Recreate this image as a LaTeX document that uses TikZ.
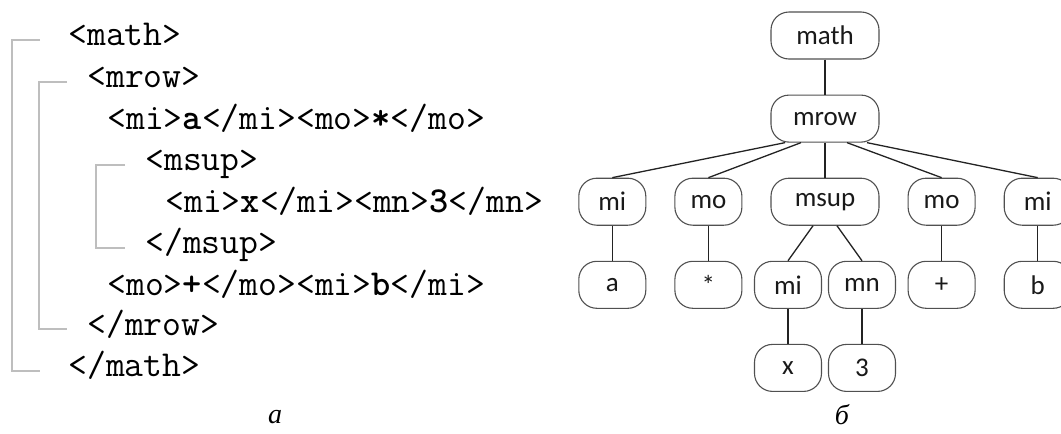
\documentclass[tikz,border=0pt]{standalone}
\usepackage{fontspec}
\setmainfont{Liberation Serif}
\newfontfamily\capfont{Liberation Serif Italic}
\newfontfamily\treefont{Carlito}
\usepackage{xcolor}
\definecolor{bracketgray}{RGB}{190, 190, 190}
\definecolor{boxline}{RGB}{80, 80, 80}
\definecolor{edgeline}{RGB}{35, 35, 35}
\usepackage{tikz}
\usetikzlibrary{positioning}

\begin{document}
\begin{tikzpicture}[x=0.5pt, y=-0.5pt, node distance=17.5pt and 14pt,
    code/.style={anchor=west, inner sep=0pt, font=\ttfamily\fontsize{18.3pt}{20pt}\selectfont, text height=0.7em, text depth=0.2em},
    bracket/.style={draw=bracketgray, line width=1.2pt},
    leaf/.style={draw=boxline, line width=0.55pt, rectangle, rounded corners=9pt, minimum width=33.5pt, minimum height=23.5pt, inner sep=0pt, font=\treefont\fontsize{13.5pt}{15pt}\selectfont, text=black!90},
    wide/.style={leaf, minimum width=54pt},
    edge/.style={draw=edgeline, line width=0.65pt}]

    \useasboundingbox (0,0) rectangle (1061,434);

    % Code listing
    \node[code] (l1) at (68,40) {<math>};
    \node[code] (l2) at (87,82) {<mrow>};
    \node[code] (l3) at (107,124) {<mi>\textbf{a}</mi><mo>\textbf{*}</mo>};
    \node[code] (l4) at (145,165) {<msup>};
    \node[code] (l5) at (165,207) {<mi>\textbf{x}</mi><mn>\textbf{3}</mn>};
    \node[code] (l6) at (145,248) {</msup>};
    \node[code] (l7) at (107,290) {<mo>\textbf{+}</mo><mi>\textbf{b}</mi>};
    \node[code] (l8) at (87,330) {</mrow>};
    \node[code] (l9) at (68,371) {</math>};

    % Brackets
    \draw[bracket] (40,40) -- (12,40) -- (12,371) -- (40,371);
    \draw[bracket] (67,82) -- (39,82) -- (39,329) -- (67,329);
    \draw[bracket] (125,165) -- (96,165) -- (96,248) -- (125,248);

    % Tree
    \node[wide] (math) at (825,35.5) {math};
    \node[wide, below=of math] (mrow) {mrow};
    \node[wide, below=of mrow] (msup) {msup};
    \node[leaf, left=of msup] (mo1) {mo};
    \node[leaf, left=of mo1] (mi1) {mi};
    \node[leaf, right=of msup] (mo2) {mo};
    \node[leaf, right=of mo2] (mi3) {mi};

    \node[leaf, below=of mi1] (a) {a};
    \node[leaf, below=of mo1] (star) {*};
    \node[leaf, below=of msup, xshift=-18.5pt] (mi2) {mi};
    \node[leaf, below=of msup, xshift=18.5pt] (mn) {mn};
    \node[leaf, below=of mo2] (plus) {+};
    \node[leaf, below=of mi3] (b) {b};

    \node[leaf, below=of mi2] (x) {x};
    \node[leaf, below=of mn] (three) {3};

    % Connectors
    \draw[edge] (math) -- (mrow);
    \draw[edge] ([xshift=-20pt]mrow.south) -- (mi1.north);
    \draw[edge] ([xshift=-12pt]mrow.south) -- (mo1.north);
    \draw[edge] (mrow) -- (msup);
    \draw[edge] ([xshift=11pt]mrow.south) -- (mo2.north);
    \draw[edge] ([xshift=21pt]mrow.south) -- (mi3.north);
    \draw[edge] (mi1) -- (a);
    \draw[edge] (mo1) -- (star);
    \draw[edge] ([xshift=-6pt]msup.south) -- (mi2.north);
    \draw[edge] ([xshift=6pt]msup.south) -- (mn.north);
    \draw[edge] (mo2) -- (plus);
    \draw[edge] (mi3) -- (b);
    \draw[edge] (mi2) -- (x);
    \draw[edge] (mn) -- (three);

    % Captions
    \node[font=\capfont\fontsize{14pt}{16pt}\selectfont, inner sep=1pt] (capa) at (275,417) {а};
    \node[font=\capfont\fontsize{14pt}{16pt}\selectfont, inner sep=1pt] (capb) at (842,415) {б};

\end{tikzpicture}
\end{document}
